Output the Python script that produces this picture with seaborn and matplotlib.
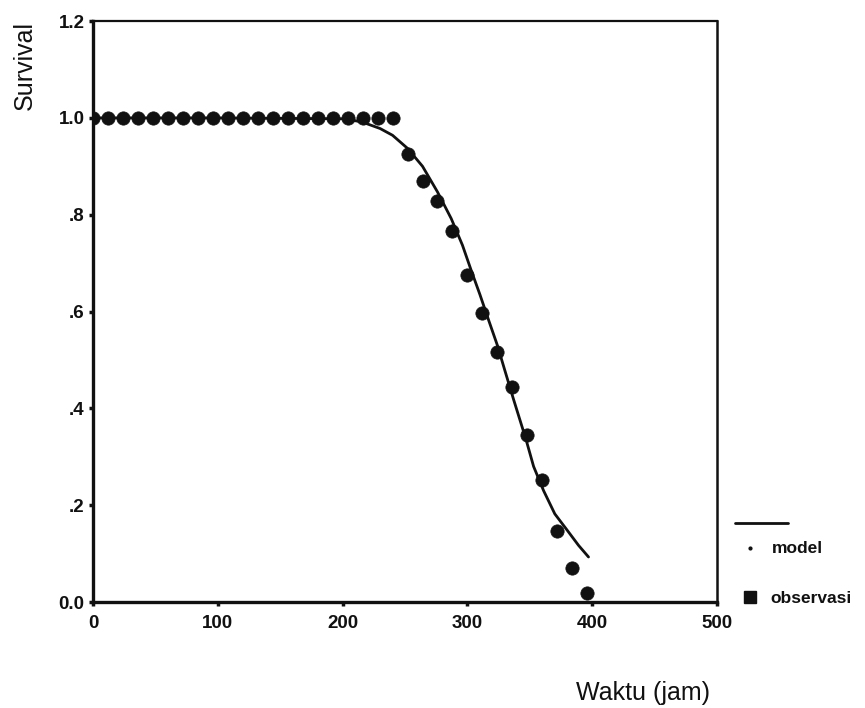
import matplotlib
matplotlib.use("Agg")
import matplotlib.pyplot as plt
import seaborn as sns
import pandas as pd

# Observed survival (waktu in jam)
obs_time = [0, 12, 24, 36, 48, 60, 72, 84, 96, 108, 120, 132, 144, 156, 168,
            180, 192, 204, 216, 228, 240, 252, 264, 276, 288, 300, 312, 324,
            336, 348, 360, 372, 384, 396]
obs_surv = [1.0, 1.0, 1.0, 1.0, 1.0, 1.0, 1.0, 1.0, 1.0, 1.0, 1.0, 1.0, 1.0,
            1.0, 1.0, 1.0, 1.0, 1.0, 1.0, 1.0, 1.0, 0.926, 0.869, 0.828,
            0.767, 0.676, 0.596, 0.516, 0.444, 0.345, 0.253, 0.147, 0.070,
            0.019]

# Fitted model curve
model_time = [0, 100, 200, 215, 230, 240, 252, 264, 276, 287, 296, 303, 310,
              317, 324, 330, 337, 347, 353, 361, 370, 380, 389, 397]
model_surv = [1.0, 1.0, 0.998, 0.992, 0.978, 0.964, 0.937, 0.900, 0.847,
              0.792, 0.737, 0.685, 0.635, 0.582, 0.530, 0.478, 0.418, 0.335,
              0.280, 0.230, 0.182, 0.148, 0.117, 0.093]

x_ticks = [0, 100, 200, 300, 400, 500]
y_ticks = [0.0, 0.2, 0.4, 0.6, 0.8, 1.0, 1.2]
y_tick_labels = ["0.0", ".2", ".4", ".6", ".8", "1.0", "1.2"]

obs_df = pd.DataFrame({"Waktu": obs_time, "Survival": obs_surv})
model_df = pd.DataFrame({"Waktu": model_time, "Survival": model_surv})

sns.set_theme(style="white")
plt.rcParams["font.family"] = ["Liberation Sans", "DejaVu Sans"]

fig = plt.figure(figsize=(8.65, 7.08), dpi=100)
ax = fig.add_axes([0.1075, 0.1497, 0.7215, 0.8206])

ink = "#111111"
sns.lineplot(data=model_df, x="Waktu", y="Survival", ax=ax, color=ink,
             linewidth=2.0, zorder=2)
sns.scatterplot(data=obs_df, x="Waktu", y="Survival", ax=ax, color=ink,
                marker="o", s=92, edgecolor=ink, linewidth=0.5, zorder=3)

ax.set_xlim(0, 500)
ax.set_ylim(0, 1.2)
ax.set_xticks(x_ticks)
ax.set_xticklabels([str(v) for v in x_ticks])
ax.set_yticks(y_ticks)
ax.set_yticklabels(y_tick_labels)

for lab in ax.get_xticklabels() + ax.get_yticklabels():
    lab.set_fontweight("bold")
    lab.set_fontsize(13.5)
    lab.set_color(ink)

ax.tick_params(axis="both", which="major", direction="out", length=3,
               width=2.5, color=ink, left=True, bottom=True)
ax.tick_params(axis="x", pad=6)
ax.tick_params(axis="y", pad=3)

for side, lw in (("left", 2.4), ("bottom", 2.4), ("top", 1.6), ("right", 1.8)):
    ax.spines[side].set_visible(True)
    ax.spines[side].set_color(ink)
    ax.spines[side].set_linewidth(lw)

ax.set_xlabel("Waktu (jam)", fontsize=18, color=ink, va="center", ha="center")
ax.set_ylabel("Survival", fontsize=18, color=ink, va="center", ha="center",
              rotation=90)
ax.xaxis.set_label_coords(0.881, -0.157)
ax.yaxis.set_label_coords(-0.109, 0.924)

# Legend drawn beside the axes
tr = ax.transAxes
ax.plot([1.029, 1.114], [0.136, 0.136], transform=tr, color=ink,
        linewidth=2.0, clip_on=False)
ax.plot([1.053], [0.093], transform=tr, marker="o", markersize=2,
        color=ink, clip_on=False, linestyle="none")
ax.text(1.088, 0.092, "model", transform=tr, fontsize=12.5,
        fontweight="bold", color=ink, va="center", ha="left")
ax.plot([1.053], [0.0086], transform=tr, marker="s", markersize=8,
        color=ink, clip_on=False, linestyle="none")
ax.text(1.086, 0.006, "observasi", transform=tr, fontsize=12.5,
        fontweight="bold", color=ink, va="center", ha="left")

fig.savefig("out.png", dpi=100, facecolor="white")
